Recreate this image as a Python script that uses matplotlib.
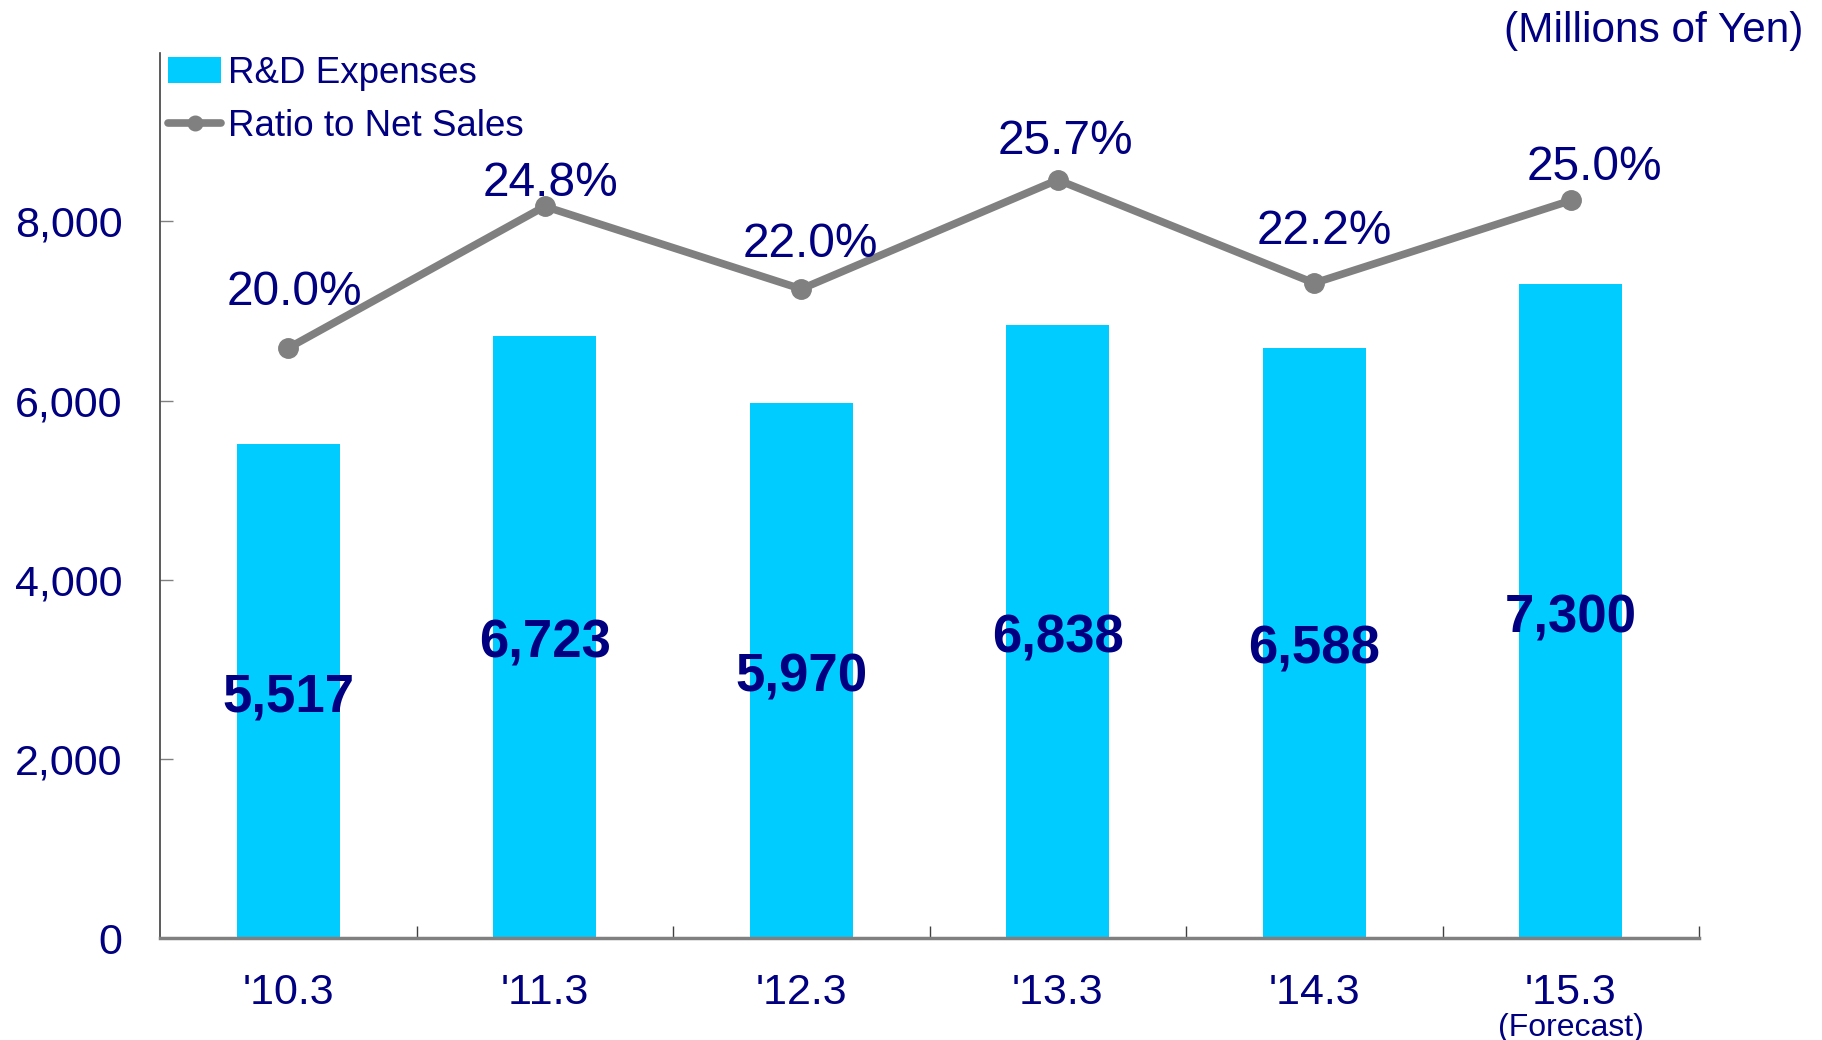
import matplotlib
matplotlib.use("Agg")
import matplotlib.pyplot as plt
import numpy as np

plt.rcParams['font.family'] = ['Liberation Sans', 'DejaVu Sans']

categories = ["'10.3", "'11.3", "'12.3", "'13.3", "'14.3", "'15.3"]
rd_expenses = [5517, 6723, 5970, 6838, 6588, 7300]
ratio_pct = [20.0, 24.8, 22.0, 25.7, 22.2, 25.0]
ytick_vals = [0, 2000, 4000, 6000, 8000]
ytick_labels = ["0", "2,000", "4,000", "6,000", "8,000"]

NAVY = '#000080'
CYAN = '#00CCFF'
GRAY = '#808080'

W, H, DPI = 1822, 1040, 100
fig = plt.figure(figsize=(W / DPI, H / DPI), dpi=DPI)
ax = fig.add_axes([160 / W, 1 - 938 / H, (1699 - 160) / W, (938 - 53) / H])

x = np.arange(len(categories))
ax.bar(x, rd_expenses, width=0.4, color=CYAN, zorder=2, label='R&D Expenses')
ax.set_xlim(-0.5, len(categories) - 0.5)
ax.set_ylim(0, 9880)

for xi, v in zip(x, rd_expenses):
    ax.annotate(f"{v:,}", xy=(xi, v / 2), xytext=(0, -7),
                textcoords='offset pixels', ha='center', va='center',
                fontsize=38, fontweight='bold', color=NAVY, zorder=5)

# axes styling
for s in ['top', 'right']:
    ax.spines[s].set_visible(False)
ax.spines['left'].set_color('#404040')
ax.spines['left'].set_linewidth(1.2)
ax.spines['bottom'].set_color(GRAY)
ax.spines['bottom'].set_linewidth(2.5)

ax.set_yticks(ytick_vals)
ax.set_yticklabels(ytick_labels)
ax.tick_params(axis='y', direction='in', length=9, width=1, color=GRAY,
               labelsize=31, labelcolor=NAVY, pad=27)

ax.set_xticks(x)
ax.set_xticklabels(categories)
ax.set_xticks(np.arange(len(categories)) + 0.5, minor=True)
ax.tick_params(axis='x', which='major', length=0, labelsize=31,
               labelcolor=NAVY, pad=25)
ax.tick_params(axis='x', which='minor', direction='in', length=9, width=1,
               color='#404040')

ax.annotate('(Forecast)', xy=(x[-1], 0), xycoords=('data', 'axes fraction'),
            xytext=(0, -90), textcoords='offset pixels', ha='center',
            va='center', fontsize=23, color=NAVY, annotation_clip=False)

ax2 = ax.twinx()
ax2.set_ylim(0, 30)
ax2.set_yticks([])
for s in ax2.spines.values():
    s.set_visible(False)
ax2.plot(x, ratio_pct, color=GRAY, lw=5.5, marker='o', markersize=14,
         solid_capstyle='round', zorder=3, label='Ratio to Net Sales')

label_offsets = [(6, 55), (6, 23), (9, 44), (8, 38), (10, 52), (24, 33)]
for xi, v, (dx, dy) in zip(x, ratio_pct, label_offsets):
    ax2.annotate(f"{v:.1f}%", xy=(xi, v), xytext=(dx, dy),
                 textcoords='offset pixels', ha='center', va='center',
                 fontsize=34.5, color=NAVY)

h1, l1 = ax.get_legend_handles_labels()
h2, l2 = ax2.get_legend_handles_labels()
leg = fig.legend(h1 + h2, l1 + l2, loc='upper left',
                 bbox_to_anchor=(168 / W, 1 - 56 / H), frameon=False,
                 fontsize=26.5, handlelength=1.45, handletextpad=0.18,
                 labelspacing=0.48, borderpad=0, borderaxespad=0,
                 markerscale=0.75)
for t in leg.get_texts():
    t.set_color(NAVY)

fig.text(1803 / W, 1 - 31 / H, '(Millions of Yen)', ha='right', va='center',
         fontsize=30.5, color=NAVY)

fig.savefig('out.png', dpi=DPI)
